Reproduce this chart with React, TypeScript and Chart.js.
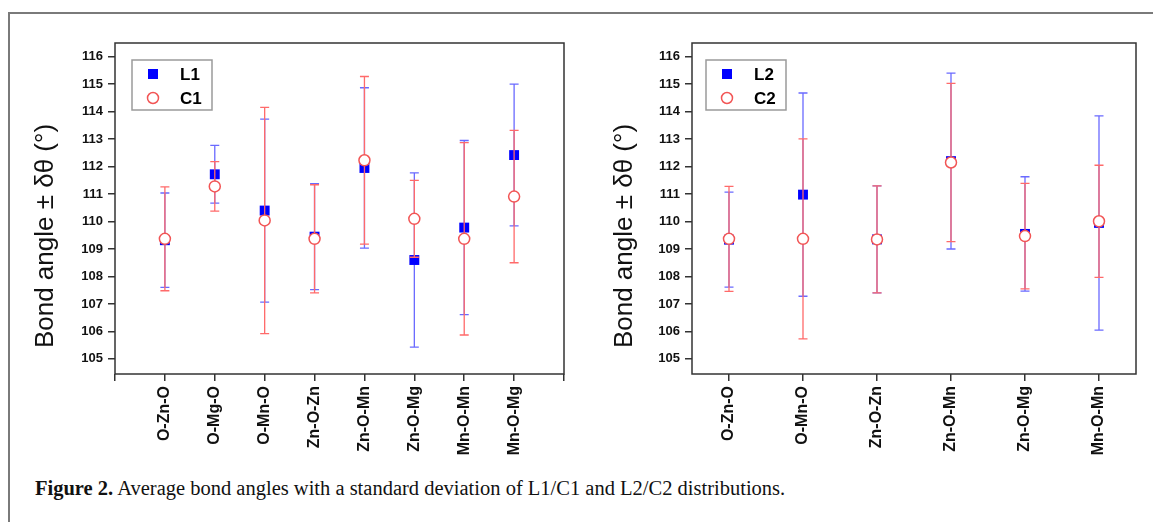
import React, { useEffect, useRef } from 'react';
import { Chart, registerables } from 'chart.js';

Chart.register(...registerables);

// ---------- data ----------
const CATEGORIES_1 = ['O-Zn-O', 'O-Mg-O', 'O-Mn-O', 'Zn-O-Zn', 'Zn-O-Mn', 'Zn-O-Mg', 'Mn-O-Mn', 'Mn-O-Mg'];
const L1_MEAN = [109.32, 111.72, 110.4, 109.45, 111.95, 108.6, 109.78, 112.42];
const L1_SD = [1.72, 1.05, 3.33, 1.93, 2.92, 3.17, 3.17, 2.58];
const C1_MEAN = [109.37, 111.28, 110.04, 109.37, 112.23, 110.1, 109.37, 110.91];
const C1_SD = [1.89, 0.9, 4.12, 1.97, 3.05, 1.4, 3.5, 2.41];

const CATEGORIES_2 = ['O-Zn-O', 'O-Mn-O', 'Zn-O-Zn', 'Zn-O-Mn', 'Zn-O-Mg', 'Mn-O-Mn'];
const L2_MEAN = [109.34, 110.98, 109.35, 112.2, 109.55, 109.95];
const L2_SD = [1.73, 3.7, 1.95, 3.2, 2.08, 3.9];
const C2_MEAN = [109.37, 109.37, 109.35, 112.15, 109.47, 110.01];
const C2_SD = [1.91, 3.64, 1.95, 2.88, 1.92, 2.04];

const Y_TICKS = [105, 106, 107, 108, 109, 110, 111, 112, 113, 114, 115, 116];
const Y_MIN = 104.45;
const Y_MAX = 116.5;
const Y_TITLE = 'Bond angle \u00b1 \u03b4\u03b8 (\u00b0)';

const BLUE = '#0000ff';
const BLUE_BAR = '#6a6aff';
const RED = '#f25555';
const RED_BAR = '#ff6a6a';
const AXIS = '#333333';

const errorBarPlugin = {
  id: 'errorBars',
  beforeDatasetDraw(chart: any, args: any) {
    const ds = chart.data.datasets[args.index];
    if (!ds.sd) return;
    const xs = chart.scales.x;
    const ys = chart.scales.y;
    const ctx = chart.ctx;
    ctx.save();
    ctx.strokeStyle = ds.barColor;
    ctx.lineWidth = 1.3;
    ds.data.forEach((p: any, i: number) => {
      const px = xs.getPixelForValue(p.x);
      const top = ys.getPixelForValue(p.y + ds.sd[i]);
      const bot = ys.getPixelForValue(p.y - ds.sd[i]);
      ctx.beginPath();
      ctx.moveTo(px, top);
      ctx.lineTo(px, bot);
      ctx.moveTo(px - 4.5, top);
      ctx.lineTo(px + 4.5, top);
      ctx.moveTo(px - 4.5, bot);
      ctx.lineTo(px + 4.5, bot);
      ctx.stroke();
    });
    ctx.restore();
  },
};

const decorPlugin = {
  id: 'decor',
  beforeDatasetsDraw(chart: any) {
    const { ctx, chartArea: a } = chart;
    ctx.save();
    ctx.strokeStyle = AXIS;
    ctx.lineWidth = 1.5;
    ctx.strokeRect(a.left, a.top, a.right - a.left, a.bottom - a.top);
    ctx.restore();
  },
  afterDraw(chart: any) {
    const { ctx, chartArea: a } = chart;
    const opts = chart.options.plugins.decor;
    // y title
    ctx.save();
    ctx.translate(opts.titleX, opts.titleY);
    ctx.rotate(-Math.PI / 2);
    ctx.font = '26px "Liberation Sans", Arial, sans-serif';
    ctx.fillStyle = '#111';
    ctx.textAlign = 'center';
    ctx.textBaseline = 'middle';
    ctx.fillText(Y_TITLE, 0, 0);
    ctx.restore();
    // legend box
    const bx = a.left + opts.legendDx;
    const by = a.top + 17;
    ctx.save();
    ctx.fillStyle = '#fff';
    ctx.fillRect(bx, by, 80, 50);
    ctx.strokeStyle = '#9a9a9a';
    ctx.lineWidth = 1.5;
    ctx.strokeRect(bx, by, 80, 50);
    const ds = chart.data.datasets;
    // square (L)
    ctx.fillStyle = BLUE;
    ctx.fillRect(bx + 16, by + 9, 10, 10);
    // circle (C)
    ctx.beginPath();
    ctx.arc(bx + 21, by + 38, 5.5, 0, Math.PI * 2);
    ctx.fillStyle = '#fff';
    ctx.fill();
    ctx.strokeStyle = RED;
    ctx.lineWidth = 1.5;
    ctx.stroke();
    ctx.fillStyle = '#000';
    ctx.font = 'bold 17px "Liberation Sans", Arial, sans-serif';
    ctx.textAlign = 'left';
    ctx.textBaseline = 'middle';
    ctx.fillText(ds[1].label, bx + 48, by + 15);
    ctx.fillText(ds[0].label, bx + 48, by + 39);
    ctx.restore();
  },
};

type Props = {
  categories: string[];
  lMean: number[];
  lSd: number[];
  cMean: number[];
  cSd: number[];
  lLabel: string;
  cLabel: string;
  xMin: number;
  xMax: number;
  xTicks: number[];
  left: number;
  width: number;
  yWidth: number;
  padRight: number;
  titleX: number;
  legendDx: number;
};

const HEIGHT = 470;
const AREA_TOP = 43;
const AREA_BOTTOM = 374;

function BondChart(p: Props) {
  const ref = useRef<HTMLCanvasElement>(null);
  useEffect(() => {
    const canvas = ref.current;
    if (!canvas) return;
    const chart = new Chart(canvas, {
      type: 'scatter',
      data: {
        datasets: [
          {
            label: p.cLabel,
            data: p.cMean.map((v, i) => ({ x: i + 1, y: v })),
            sd: p.cSd,
            barColor: RED_BAR,
            pointStyle: 'circle',
            pointRadius: 5.5,
            pointBackgroundColor: '#ffffff',
            pointBorderColor: RED,
            pointBorderWidth: 1.5,
          } as any,
          {
            label: p.lLabel,
            data: p.lMean.map((v, i) => ({ x: i + 1, y: v })),
            sd: p.lSd,
            barColor: BLUE_BAR,
            pointStyle: 'rect',
            pointRadius: 7,
            pointBackgroundColor: BLUE,
            pointBorderColor: BLUE,
            pointBorderWidth: 0,
          } as any,
        ],
      },
      options: {
        animation: false,
        responsive: false,
        layout: { padding: { left: 0, top: AREA_TOP, right: p.padRight, bottom: 0 } },
        plugins: {
          legend: { display: false },
          tooltip: { enabled: false },
          decor: { titleX: p.titleX, titleY: 236, legendDx: p.legendDx },
        } as any,
        scales: {
          x: {
            type: 'linear',
            min: p.xMin,
            max: p.xMax,
            afterBuildTicks: (s: any) => {
              s.ticks = p.xTicks.map((v) => ({ value: v }));
            },
            afterFit: (s: any) => {
              s.height = HEIGHT - AREA_BOTTOM;
            },
            border: { display: false },
            grid: {
              drawOnChartArea: false,
              drawTicks: true,
              tickLength: 7,
              tickColor: AXIS,
              lineWidth: 1.5,
            },
            ticks: {
              autoSkip: false,
              minRotation: 90,
              maxRotation: 90,
              padding: 5,
              color: '#111',
              font: { family: '"Liberation Sans", Arial, sans-serif', size: 16, weight: 'bold' },
              callback: (v: any) => p.categories[Math.round(v) - 1] ?? '',
            },
          },
          y: {
            type: 'linear',
            min: Y_MIN,
            max: Y_MAX,
            afterBuildTicks: (s: any) => {
              s.ticks = Y_TICKS.map((v) => ({ value: v }));
            },
            afterFit: (s: any) => {
              s.width = p.yWidth;
            },
            border: { display: false },
            grid: {
              drawOnChartArea: false,
              drawTicks: true,
              tickLength: 7,
              tickColor: AXIS,
              lineWidth: 1.5,
            },
            ticks: {
              padding: 5,
              color: '#111',
              font: { family: '"Liberation Sans", Arial, sans-serif', size: 13, weight: 'bold' },
            },
          },
        },
      } as any,
      plugins: [errorBarPlugin, decorPlugin],
    });
    return () => chart.destroy();
  }, []);
  return (
    <canvas
      ref={ref}
      width={p.width}
      height={HEIGHT}
      style={{ position: 'absolute', left: p.left, top: 0, width: p.width, height: HEIGHT }}
    />
  );
}

export default function App() {
  return (
    <div style={{ position: 'absolute', left: 0, top: 0, width: 1153, height: 522, background: '#fff', overflow: 'hidden' }}>
      <div
        style={{
          position: 'absolute',
          left: 8,
          top: 12,
          width: 1145,
          height: 520,
          borderTop: '2px solid #7a7a7a',
          borderLeft: '2px solid #7a7a7a',
        }}
      />
      <BondChart
        categories={CATEGORIES_1}
        lMean={L1_MEAN}
        lSd={L1_SD}
        cMean={C1_MEAN}
        cSd={C1_SD}
        lLabel="L1"
        cLabel="C1"
        xMin={0}
        xMax={9}
        xTicks={[0, 1, 2, 3, 4, 5, 6, 7, 8, 9]}
        left={0}
        width={660}
        yWidth={115}
        padRight={96}
        titleX={46}
        legendDx={17}
      />
      <BondChart
        categories={CATEGORIES_2}
        lMean={L2_MEAN}
        lSd={L2_SD}
        cMean={C2_MEAN}
        cSd={C2_SD}
        lLabel="L2"
        cLabel="C2"
        xMin={0.5}
        xMax={6.5}
        xTicks={[1, 2, 3, 4, 5, 6]}
        left={580}
        width={573}
        yWidth={112}
        padRight={17}
        titleX={45}
        legendDx={14}
      />
      <div
        style={{
          position: 'absolute',
          left: 35,
          top: 477,
          fontFamily: '"Liberation Serif", "Times New Roman", serif',
          fontSize: 20.5,
          lineHeight: '22px',
          color: '#111',
          whiteSpace: 'nowrap',
        }}
      >
        <b>Figure 2.</b> Average bond angles with a standard deviation of L1/C1 and L2/C2 distributions.
      </div>
    </div>
  );
}
